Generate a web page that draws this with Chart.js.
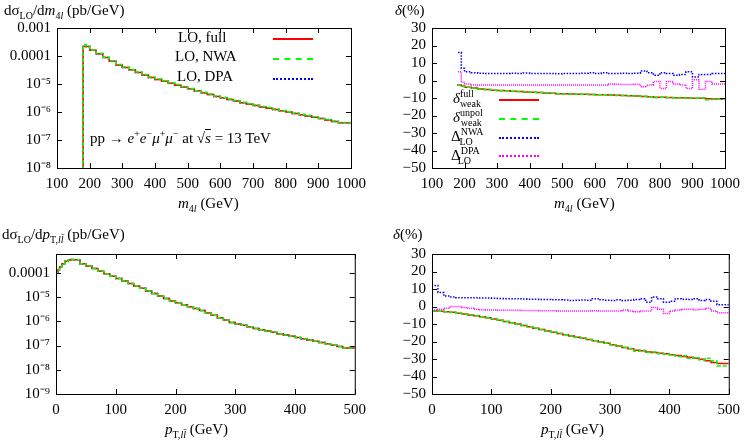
<!DOCTYPE html>
<html>
<head>
<meta charset="utf-8">
<script src="https://cdn.jsdelivr.net/npm/chart.js@4.4.0/dist/chart.umd.min.js"></script>
<style>
  body { margin: 0; background: #fff; font-family: "Liberation Serif", serif; }
  #wrap { position: relative; width: 747px; height: 443px; }
  canvas { position: absolute; }
  .t { position: absolute; font-size: 15px; white-space: nowrap; color: #000; }
  .t sub, .t sup { font-size: 10px; }
  .ls { position: absolute; height: 0; border-top: 2px solid; }
</style>
</head>
<body>
<div id="wrap">
  <canvas id="c1" width="373" height="222" style="left:0;top:0"></canvas>
  <canvas id="c2" width="374" height="222" style="left:373px;top:0"></canvas>
  <canvas id="c3" width="373" height="221" style="left:0;top:222px"></canvas>
  <canvas id="c4" width="374" height="221" style="left:373px;top:222px"></canvas>

  <div class="t" style="left:4px;top:2px">dσ<sub>LO</sub>/d<i>m</i><sub>4<i>l</i></sub> (pb/GeV)</div>
  <div class="t" style="left:178px;top:195px"><i>m</i><sub>4<i>l</i></sub> (GeV)</div>
  <div class="t" style="left:395px;top:2px"><i>δ</i>(%)</div>
  <div class="t" style="left:554px;top:195px"><i>m</i><sub>4<i>l</i></sub> (GeV)</div>
  <div class="t" style="left:2px;top:226px">dσ<sub>LO</sub>/d<i>p</i><sub>T,<i>l</i><i>l̄</i></sub> (pb/GeV)</div>
  <div class="t" style="left:165px;top:421px"><i>p</i><sub>T,<i>l</i><i>l̄</i></sub> (GeV)</div>
  <div class="t" style="left:393px;top:226px"><i>δ</i>(%)</div>
  <div class="t" style="left:541px;top:421px"><i>p</i><sub>T,<i>l</i><i>l̄</i></sub> (GeV)</div>

  <div class="t" style="left:90px;top:128px">pp → <i>e</i><sup>+</sup><i>e</i><sup>−</sup><i>μ</i><sup>+</sup><i>μ</i><sup>−</sup> at √<span style="text-decoration:overline"><i>s</i></span> = 13 TeV</div>

  <div class="t" style="left:178px;top:29px">LO, full</div>
  <div class="ls" style="left:273px;top:38px;width:40px;border-color:#ff0000"></div>
  <div class="t" style="left:175px;top:48px">LO, NWA</div>
  <div class="ls" style="left:273px;top:58px;width:40px;border-color:#00ff00;border-top-style:dashed"></div>
  <div class="t" style="left:177px;top:68px">LO, DPA</div>
  <div class="ls" style="left:273px;top:78px;width:40px;border-color:#0000ff;border-top-style:dotted"></div>

  <div class="t" style="left:453px;top:88px"><i>δ</i><sup>full</sup><sub style="margin-left:-14px">weak</sub></div>
  <div class="ls" style="left:499px;top:99px;width:40px;border-color:#ff0000"></div>
  <div class="t" style="left:453px;top:107px"><i>δ</i><sup>unpol</sup><sub style="margin-left:-22px">weak</sub></div>
  <div class="ls" style="left:499px;top:118px;width:40px;border-color:#00ff00;border-top-style:dashed"></div>
  <div class="t" style="left:451px;top:126px">Δ<sup>NWA</sup><sub style="margin-left:-24px">LO</sub></div>
  <div class="ls" style="left:499px;top:137px;width:40px;border-color:#0000ff;border-top-style:dotted"></div>
  <div class="t" style="left:451px;top:145px">Δ<sup>DPA</sup><sub style="margin-left:-22px">LO</sub></div>
  <div class="ls" style="left:499px;top:155px;width:40px;border-color:#ff00ff;border-top-style:dotted"></div>
</div>
<script>
// m4l histogram (lower bin edges, GeV) and values (pb/GeV)
const m4lEdges = [180,190,200,220,240,260,280,300,320,340,360,380,400,420,440,460,480,500,520,540,560,580,600,620,640,660,680,700,720,740,760,780,800,820,840,860,880,900,920,940,960,980];
const m4lEnd = 1000;
const m4lLO = [1.1e-4,2.2e-4,2.2e-4,1.6e-4,1.2e-4,8.8e-5,6.5e-5,4.8e-5,3.9e-5,3.2e-5,2.6e-5,2.1e-5,1.7e-5,1.45e-5,1.25e-5,1.07e-5,9.1e-6,7.8e-6,6.7e-6,5.7e-6,4.9e-6,4.2e-6,3.6e-6,3.2e-6,2.8e-6,2.45e-6,2.15e-6,1.9e-6,1.7e-6,1.52e-6,1.37e-6,1.23e-6,1.1e-6,9.9e-7,8.9e-7,8e-7,7.2e-7,6.5e-7,5.8e-7,5.2e-7,4.6e-7,4.1e-7];
const m4lLONWA = [1.25e-4,2.5e-4,2.3e-4,1.65e-4,1.25e-4,9.1e-5,6.7e-5,5e-5,4.05e-5,3.3e-5,2.7e-5,2.2e-5,1.77e-5,1.5e-5,1.3e-5,1.11e-5,9.5e-6,8.1e-6,6.95e-6,5.9e-6,5.1e-6,4.35e-6,3.75e-6,3.3e-6,2.9e-6,2.55e-6,2.23e-6,1.97e-6,1.77e-6,1.58e-6,1.44e-6,1.28e-6,1.13e-6,1.03e-6,9.2e-7,8.25e-7,7.45e-7,6.8e-7,5.9e-7,5.4e-7,4.75e-7,4.25e-7];
const m4lLODPA = m4lLO;
const m4lFull = [-2,-2.5,-3,-3.8,-4.3,-4.8,-5.2,-5.5,-5.7,-5.9,-6.1,-6.3,-6.5,-6.7,-6.9,-7.1,-7.3,-7.5,-7.6,-7.7,-7.8,-7.9,-8,-8.1,-8.2,-8.3,-8.4,-8.5,-8.7,-8.9,-9.1,-9.3,-9.5,-9.6,-9.7,-9.8,-9.9,-10,-10.1,-10.2,-10.4,-10.5];
const m4lUnpol = [-2,-2.5,-3.2,-3.8,-4.4,-4.8,-5.2,-5.5,-5.8,-5.9,-6.1,-6.3,-6.5,-6.7,-6.9,-7.1,-7.3,-7.5,-7.7,-7.7,-7.8,-7.9,-8,-8.1,-8.2,-8.3,-8.5,-8.5,-8.7,-8.9,-9,-9.3,-9.8,-9.6,-9.8,-9.8,-10,-10,-10.1,-10,-11,-10.7];
const m4lNWA = [16,16,7,5,4.5,4.2,4,4,4,4,4.2,4,4.3,4,4,4,4,3.8,4,4,4,4.2,4.5,4,4.5,4,4,4.2,4,4.2,5.5,4.5,3,4.5,4,3,3.5,5,2,3.5,3.5,4];
const m4lDPA = [5,5,-1,-2,-2.5,-2.5,-2.5,-2.5,-2.5,-2.5,-2.5,-2.5,-2.5,-2.5,-2.5,-2.5,-2.5,-2.5,-2.5,-2.5,-2.5,-2.5,-2.5,-2.5,-2.5,-2,-2.2,-2.3,-2.3,-2.2,-3.5,-2.5,-0.5,-4.5,-0.5,-2,-2.5,-4.5,0.5,-5,-0.5,-2];

// pT,ll histogram
const ptEdges = [0,3,6,10,15,20,25,30,40,50,60,70,80,90,100,110,120,130,140,150,160,170,180,190,200,210,220,230,240,250,260,270,280,290,300,310,320,330,340,350,360,370,380,390,400,410,420,430,440,450,460,470,480,490];
const ptEnd = 500;
const ptLO = [4.1e-5,1e-4,1.3e-4,1.8e-4,2.4e-4,3e-4,3.4e-4,3.6e-4,3.5e-4,2.4e-4,1.9e-4,1.5e-4,1.17e-4,9.2e-5,7.3e-5,5.8e-5,4.6e-5,3.65e-5,2.9e-5,2.3e-5,1.8e-5,1.42e-5,1.12e-5,8.8e-6,6.9e-6,5.8e-6,4.8e-6,4e-6,3.35e-6,2.8e-6,2.2e-6,1.77e-6,1.4e-6,1.12e-6,8.9e-7,7.8e-7,6.8e-7,5.9e-7,5.1e-7,4.5e-7,3.95e-7,3.5e-7,3.1e-7,2.7e-7,2.4e-7,2.13e-7,1.9e-7,1.7e-7,1.5e-7,1.35e-7,1.18e-7,1.04e-7,9.1e-8,8e-8];
const ptBins = [0,10,20,30,40,50,60,70,80,90,100,110,120,130,140,150,160,170,180,190,200,210,220,230,240,250,260,270,280,290,300,310,320,330,340,350,360,370,380,390,400,410,420,430,440,450,460,470,480,490];
const ptFull = [-2.5,-2.5,-2.7,-3,-3.3,-3.8,-4.3,-4.8,-5.3,-5.8,-6.4,-7.1,-7.8,-8.6,-9.3,-10,-10.8,-11.6,-12.4,-13.2,-14,-14.7,-15.4,-16.1,-16.8,-17.5,-18.2,-18.9,-19.6,-20.3,-21,-21.8,-22.6,-23.4,-24.2,-25,-25.3,-26,-26.3,-26.7,-27,-27.5,-28,-28.5,-29,-29.5,-30.2,-31,-32,-32.5];
const ptUnpol = [-2.5,-2.5,-2.7,-3,-3.3,-3.8,-4.3,-4.8,-5.3,-5.8,-6.4,-7.1,-7.8,-8.6,-9.3,-10,-10.8,-11.6,-12.4,-13.2,-14,-14.7,-15.4,-16.1,-16.8,-17.5,-18.2,-18.9,-19.6,-20.3,-21,-21.8,-22.6,-23.4,-24,-25.5,-25,-26.3,-26,-27,-27.2,-27.5,-28.5,-28.2,-29.5,-29.3,-30.5,-29.5,-31,-34];
const ptNWA = [14,12,8,6,5.5,5,5,5,5,4.8,4.8,4.7,4.6,4.5,4.5,4.5,4.3,4.2,4.2,4,4,3.8,3.8,3.7,3.5,3.6,3.7,3.6,4.5,3.8,3.6,3.5,3.8,3.4,3.6,4,4.5,2.5,5.5,4.5,2.5,3,4.5,4.2,4,4.5,3.5,4,3,1];
const ptDPA = [-2,-2,-1.5,-1,0,0,-0.5,-1,-1.5,-1.8,-2,-2,-2.1,-2.2,-2.2,-2.2,-2.3,-2.3,-2.3,-2.4,-2.4,-2.4,-2.5,-2.5,-2.5,-2.5,-2.5,-2.5,-2.4,-2.5,-2.5,-2.5,-2.5,-2,-2.5,-3,-2.5,-2.5,-0.5,-1.5,-4,-2.5,-2,-1.5,-1.5,-2,-1.5,-1,-2.5,-3.5];

const RED = "#ff0000", GREEN = "#00ff00", BLUE = "#0000ff", MAG = "#ff00ff";
const FONT = { family: "Liberation Serif", size: 15 };
const sup = { "-": "⁻", "0": "⁰", "1": "¹", "2": "²", "3": "³", "4": "⁴", "5": "⁵", "6": "⁶", "7": "⁷", "8": "⁸", "9": "⁹" };

function steps(edges, end, vals, floor) {
  const pts = [];
  if (floor !== undefined) pts.push({ x: edges[0], y: floor });
  edges.forEach((e, i) => pts.push({ x: e, y: vals[i] }));
  pts.push({ x: end, y: vals[vals.length - 1] });
  return pts;
}

function ds(data, color, dash) {
  return { data, borderColor: color, borderWidth: 1.5, borderDash: dash, pointRadius: 0, stepped: "after", fill: false };
}

const frame = {
  id: "frame",
  afterDraw(chart) {
    const { ctx, chartArea: a, scales } = chart;
    ctx.save();
    ctx.strokeStyle = "#000";
    ctx.lineWidth = 1;
    scales.x.ticks.forEach(t => {
      const px = Math.round(scales.x.getPixelForValue(t.value)) + 0.5;
      ctx.beginPath();
      ctx.moveTo(px, a.bottom); ctx.lineTo(px, a.bottom - 5);
      ctx.moveTo(px, a.top); ctx.lineTo(px, a.top + 5);
      ctx.stroke();
    });
    scales.y.ticks.forEach(t => {
      const py = Math.round(scales.y.getPixelForValue(t.value)) + 0.5;
      ctx.beginPath();
      ctx.moveTo(a.left, py); ctx.lineTo(a.left + 5, py);
      ctx.moveTo(a.right, py); ctx.lineTo(a.right - 5, py);
      ctx.stroke();
    });
    ctx.strokeRect(a.left + 0.5, a.top + 0.5, a.right - a.left, a.bottom - a.top);
    ctx.restore();
  }
};

function logLabel(v) {
  if (v >= 1e-4) return String(Number(v.toPrecision(1)));
  const e = Math.round(Math.log10(v));
  return "10" + String(e).split("").map(c => sup[c]).join("");
}

function makeChart(id, box, datasets, x, y) {
  // box: canvas x0,y0,w,h and plot l,t,r,b in page pixels
  return new Chart(document.getElementById(id), {
    type: "line",
    data: { datasets },
    plugins: [frame],
    options: {
      responsive: false,
      animation: false,
      layout: { padding: { top: box.t - box.y0, right: box.x0 + box.w - box.r, left: 0, bottom: 0 } },
      plugins: { legend: { display: false }, tooltip: { enabled: false } },
      scales: {
        x: Object.assign({
          type: "linear",
          grid: { display: false, drawTicks: false },
          border: { display: false },
          ticks: { font: FONT, color: "#000", padding: 7, maxRotation: 0, autoSkip: false, callback: v => String(v) },
          afterFit: s => { s.height = box.y0 + box.h - box.b; }
        }, x),
        y: Object.assign({
          grid: { display: false, drawTicks: false },
          border: { display: false },
          ticks: { font: FONT, color: "#000", padding: 6, autoSkip: false },
          afterFit: s => { s.width = box.l - box.x0; }
        }, y)
      }
    }
  });
}

function fixedTicks(list) {
  return s => { s.ticks = list.map(v => ({ value: v })); };
}

const pctTicks = [-50, -40, -30, -20, -10, 0, 10, 20, 30];
const pctAxis = {
  type: "linear", min: -50, max: 30,
  afterBuildTicks: fixedTicks(pctTicks),
  ticks: { font: FONT, color: "#000", padding: 6, autoSkip: false, callback: v => String(v).replace("-", "−") }
};

makeChart("c1", { x0: 0, y0: 0, w: 373, h: 222, l: 57, t: 28, r: 356, b: 168 }, [
  ds(steps(m4lEdges, m4lEnd, m4lLONWA, 1e-10), GREEN, [4, 2]),
  ds(steps(m4lEdges, m4lEnd, m4lLO, 1e-10), RED),
  ds(steps(m4lEdges, m4lEnd, m4lLODPA, 1e-10), BLUE, [1.5, 1.5])
], { min: 100, max: 1000, afterBuildTicks: fixedTicks([100,200,300,400,500,600,700,800,900,1000]) },
{ type: "logarithmic", min: 1e-8, max: 1e-3,
  afterBuildTicks: fixedTicks([1e-8,1e-7,1e-6,1e-5,1e-4,1e-3]),
  ticks: { font: FONT, color: "#000", padding: 6, autoSkip: false, callback: logLabel } });

makeChart("c2", { x0: 373, y0: 0, w: 374, h: 222, l: 432, t: 28, r: 731, b: 168 }, [
  ds(steps(m4lEdges, m4lEnd, m4lNWA), BLUE, [1.5, 1.5]),
  ds(steps(m4lEdges, m4lEnd, m4lDPA), MAG, [1, 1]),
  ds(steps(m4lEdges, m4lEnd, m4lUnpol), GREEN, [4, 2]),
  ds(steps(m4lEdges, m4lEnd, m4lFull), RED)
], { min: 100, max: 1000, afterBuildTicks: fixedTicks([100,200,300,400,500,600,700,800,900,1000]) }, pctAxis);

makeChart("c3", { x0: 0, y0: 222, w: 373, h: 221, l: 56, t: 254, r: 356, b: 394 }, [
  ds(steps(ptEdges, ptEnd, ptLO, 1e-10), GREEN, [4, 2]),
  ds(steps(ptEdges, ptEnd, ptLO, 1e-10), RED),
  ds(steps(ptEdges, ptEnd, ptLO, 1e-10), BLUE, [1.5, 1.5])
], { min: 0, max: 500, afterBuildTicks: fixedTicks([0,100,200,300,400,500]) },
{ type: "logarithmic", min: 1e-9, max: 6e-4,
  afterBuildTicks: fixedTicks([1e-9,1e-8,1e-7,1e-6,1e-5,1e-4]),
  ticks: { font: FONT, color: "#000", padding: 6, autoSkip: false, callback: logLabel } });

makeChart("c4", { x0: 373, y0: 222, w: 374, h: 221, l: 432, t: 254, r: 731, b: 394 }, [
  ds(steps(ptBins, ptEnd, ptNWA), BLUE, [1.5, 1.5]),
  ds(steps(ptBins, ptEnd, ptDPA), MAG, [1, 1]),
  ds(steps(ptBins, ptEnd, ptUnpol), GREEN, [4, 2]),
  ds(steps(ptBins, ptEnd, ptFull), RED)
], { min: 0, max: 500, afterBuildTicks: fixedTicks([0,100,200,300,400,500]) }, pctAxis);
</script>
</body>
</html>
